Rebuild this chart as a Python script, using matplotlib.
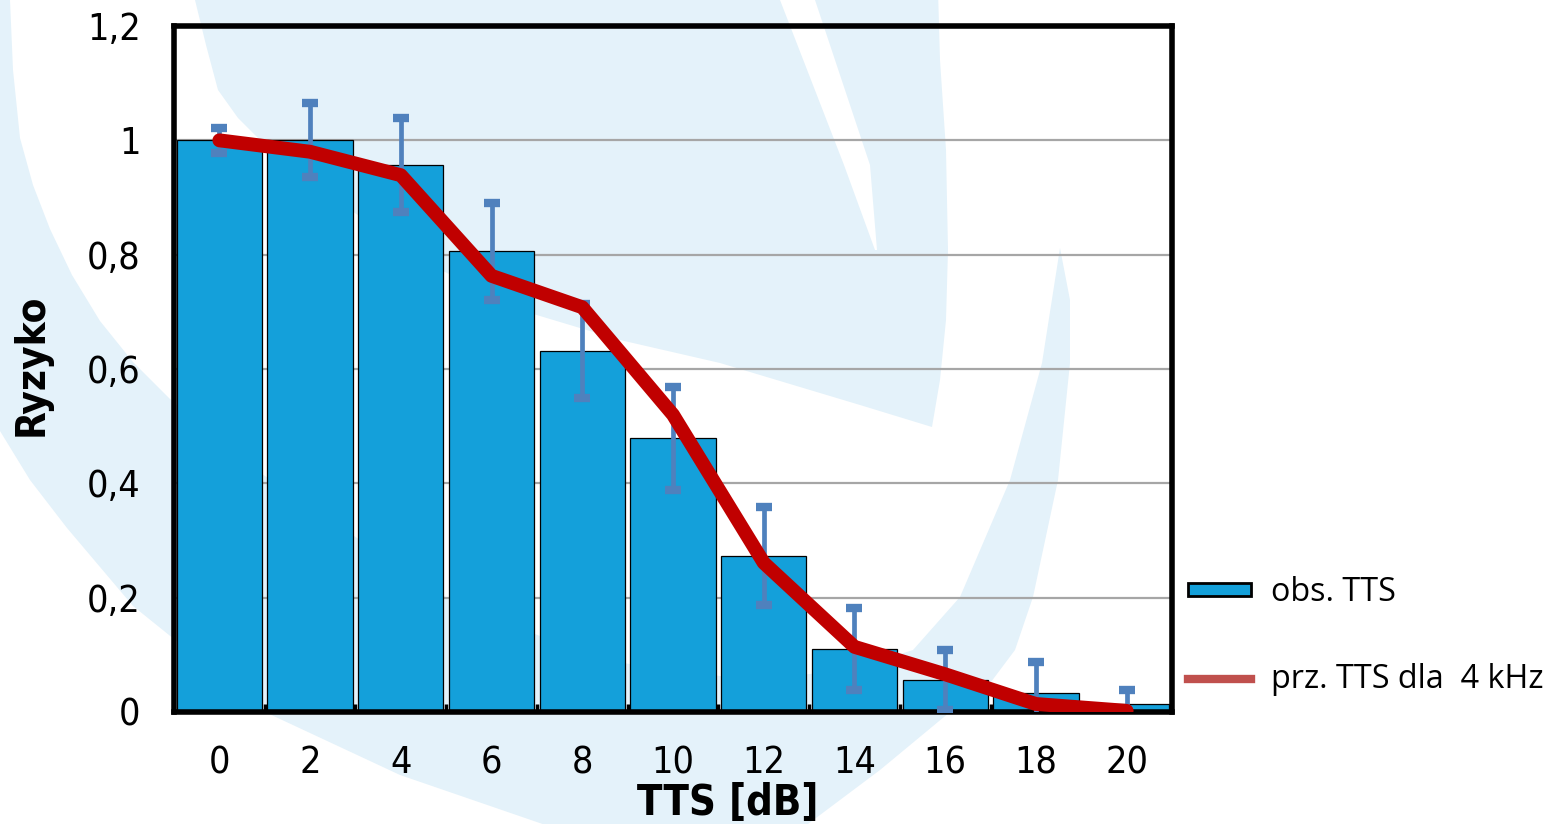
import matplotlib
matplotlib.use("Agg")
import matplotlib.pyplot as plt
import numpy as np
from matplotlib.patches import Polygon, Patch
from matplotlib.lines import Line2D

# data
tts = [0, 2, 4, 6, 8, 10, 12, 14, 16, 18, 20]
obs = [1.0, 1.0, 0.957, 0.806, 0.631, 0.479, 0.273, 0.110, 0.056, 0.033, 0.014]
err = [0.022, 0.065, 0.082, 0.085, 0.082, 0.09, 0.085, 0.072, 0.052, 0.054, 0.024]
prz = [1.0, 0.98, 0.939, 0.763, 0.708, 0.52, 0.261, 0.114, 0.066, 0.014, 0.002]
yticks = [0, 0.2, 0.4, 0.6, 0.8, 1.0, 1.2]
ylabels = ["0", "0,2", "0,4", "0,6", "0,8", "1", "1,2"]
labels = ["obs. TTS", "prz. TTS dla  4 kHz"]

W, H = 1548, 824
fig = plt.figure(figsize=(W / 100, H / 100), dpi=100)

# background logo watermark (pixel coordinates)
bg = fig.add_axes([0, 0, 1, 1], zorder=0)
bg.set_xlim(0, W); bg.set_ylim(H, 0); bg.axis("off")
wm = "#E4F2FA"
band = [(10, 0), (13, 70), (20, 138), (33, 185), (50, 229), (72, 275), (100, 321),
        (133, 362), (170, 399), (230, 452), (300, 500), (450, 600),
        (600, 660), (750, 680), (850, 670), (913, 650), (960, 597), (1010, 480),
        (1042, 363), (1060, 248), (1070, 300), (1070, 363), (1058, 480), (1033, 597),
        (1015, 650), (985, 690), (950, 712), (880, 770), (800, 830), (560, 830),
        (400, 775), (265, 712), (200, 660), (133, 606), (67, 528), (30, 480), (0, 431),
        (-10, 431), (-10, -10), (10, -10)]
swoosh = [(195, -10), (195, 0), (206, 45), (218, 90), (238, 118), (260, 140), (330, 195),
          (420, 260), (530, 313), (620, 340), (720, 363), (860, 405), (932, 427),
          (940, 380), (946, 320), (948, 250), (946, 150), (940, 60), (938, -10),
          (815, -10), (815, 0), (870, 165), (877, 250), (875, 250), (844, 165),
          (780, 0), (780, -10)]
bg.add_patch(Polygon(band, closed=True, facecolor=wm, edgecolor="none"))
bg.add_patch(Polygon(swoosh, closed=True, facecolor=wm, edgecolor="none"))

ax = fig.add_axes([174 / W, (H - 712) / H, (1172 - 174) / W, (712 - 26) / H], zorder=1)
ax.set_facecolor("none")

ax.bar(tts, obs, width=1.88, color="#14A0DA", edgecolor="black", linewidth=0.9, zorder=2)
ax.errorbar(tts, obs, yerr=err, fmt="none", ecolor="#4F81BD", elinewidth=3.4,
            capsize=5.5, capthick=6, zorder=3)
ax.plot(tts, prz, color="#C00000", lw=10, solid_joinstyle="round", solid_capstyle="round", zorder=4)

ax.set_xlim(-1, 21)
ax.set_ylim(0, 1.2)
ax.set_yticks(yticks)
ax.set_yticklabels(ylabels)
ax.set_xticks(tts)
ax.set_xticks(np.arange(1, 21, 2), minor=True)
ax.yaxis.grid(True, color="#A6A6A6", lw=1.6)
ax.set_axisbelow(True)
ax.tick_params(axis="both", which="major", length=0, labelsize=27, pad=24)
ax.tick_params(axis="x", which="minor", direction="in", length=6, width=2.5, color="black")
for lab in ax.get_xticklabels() + ax.get_yticklabels():
    lab.set_fontfamily("DejaVu Sans")
    lab.set_fontstretch("condensed")
for s in ax.spines.values():
    s.set_linewidth(4)
    s.set_color("black")

fig.text(32 / W, 1 - 365 / H, "Ryzyko", rotation=90, ha="center", va="center",
         fontsize=29, fontweight="bold", family="DejaVu Sans", fontstretch="condensed")
fig.text(728 / W, 1 - 803 / H, "TTS [dB]", ha="center", va="center",
         fontsize=30, fontweight="bold", family="DejaVu Sans", fontstretch="condensed")

handles = [Patch(facecolor="#14A0DA", edgecolor="black", linewidth=2),
           Line2D([0], [0], color="#C0504D", lw=6)]
fig.legend(handles, labels, loc="center left", bbox_to_anchor=(1172 / W, 1 - 636 / H),
           frameon=False, prop={"family": "Open Sans", "size": 23.3},
           handlelength=1.95, handleheight=0.22, handletextpad=0.62, labelspacing=1.65,
           borderpad=0)

fig.savefig("out.png", dpi=100)
